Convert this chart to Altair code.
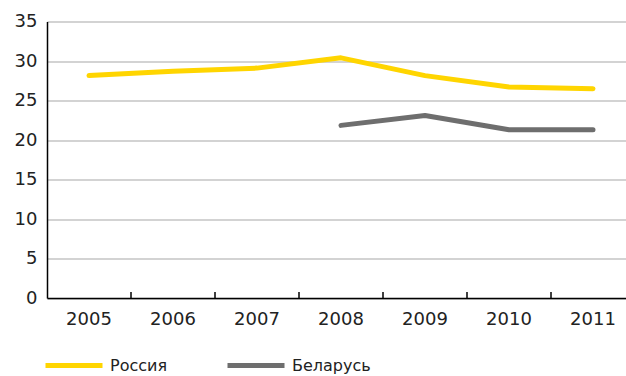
import altair as alt
import pandas as pd

years = ["2005", "2006", "2007", "2008", "2009", "2010", "2011"]
russia = [28.15, 28.7, 29.1, 30.4, 28.15, 26.7, 26.5]
belarus = [None, None, None, 21.85, 23.1, 21.3, 21.3]
series_names = ["Россия", "Беларусь"]
series_colors = ["#FFD500", "#6E6E6E"]

rows = []
for name, vals in zip(series_names, [russia, belarus]):
    for y, v in zip(years, vals):
        if v is not None:
            rows.append({"year": y, "value": v, "series": name})
df = pd.DataFrame(rows)

# category boundaries get small inward tick marks on the baseline
tick_df = pd.DataFrame({"year": years[1:]})

FONT = "DejaVu Sans"
W, H = 579, 276.5

x_scale = alt.Scale(domain=years, range=[0, 588], paddingInner=0, paddingOuter=0)
y_scale = alt.Scale(domain=[0, 35], nice=False)

x_axis = alt.Axis(title=None, labelAngle=0, ticks=False, domainColor="#000000",
                  domainWidth=1.5, labelFontSize=18, labelPadding=12,
                  labelColor="#222222", labelFont=FONT, grid=False)
y_axis = alt.Axis(title=None, values=list(range(0, 40, 5)), ticks=False,
                  domainColor="#000000", domainWidth=1.5, labelFontSize=18,
                  labelPadding=10, labelColor="#222222", labelFont=FONT,
                  gridColor="#C4C4C4", gridWidth=1.5)

lines = alt.Chart(df).mark_line(strokeWidth=5, strokeCap="round", strokeJoin="round").encode(
    x=alt.X("year:N", scale=x_scale, sort=years, axis=x_axis),
    y=alt.Y("value:Q", scale=y_scale, axis=y_axis),
    color=alt.Color("series:N", sort=series_names,
                    scale=alt.Scale(domain=series_names, range=series_colors),
                    legend=alt.Legend(title=None, orient="none", legendX=-4, legendY=313,
                                      direction="horizontal", symbolType="stroke",
                                      symbolSize=3249, symbolStrokeWidth=5,
                                      labelFontSize=16, labelFont=FONT, labelColor="#222222",
                                      labelOffset=5, columnPadding=28, gridAlign="all")),
    detail="series:N",
)

ticks = alt.Chart(tick_df).mark_rule(color="#000000", strokeWidth=1.5).encode(
    x=alt.X("year:N", scale=x_scale, sort=years, bandPosition=0, axis=x_axis),
    y=alt.Y(datum=0, scale=y_scale, axis=y_axis),
    y2=alt.value(H - 6),
)

chart = alt.layer(lines, ticks).properties(
    width=W, height=H,
    autosize=alt.AutoSizeParams(type="none"),
    padding={"left": 47, "top": 21.5, "right": 0, "bottom": 78},
).configure_view(stroke=None)

chart.save("out.html", embed_options={"renderer": "svg", "actions": False})
